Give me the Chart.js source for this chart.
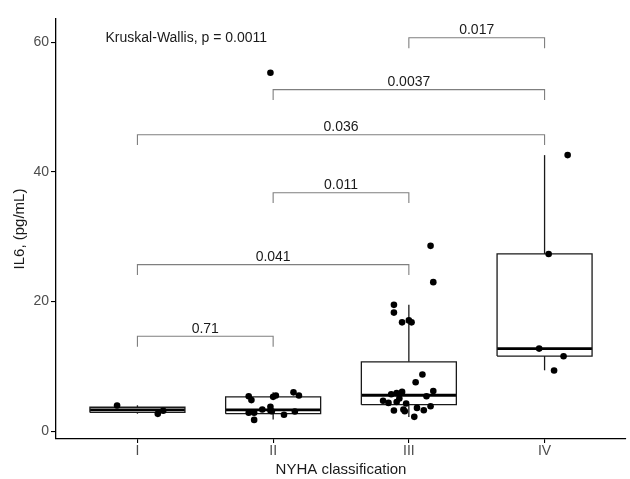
<!DOCTYPE html>
<html lang="en">
<head>
<meta charset="UTF-8">
<title>IL6 by NYHA class</title>
<script src="https://cdn.jsdelivr.net/npm/chart.js"></script>
<style>
  body { margin: 0; background: #fff; }
  #wrap { width: 630px; height: 479px; }
</style>
</head>
<body>
<div id="wrap"><canvas id="il6-chart" width="630" height="479"></canvas></div>
<script>
// groups on the x axis
const groups = ['I', 'II', 'III', 'IV'];
const yTicks = [0, 20, 40, 60];

// box statistics
const boxQ1 = [2.9, 2.7, 4.1, 11.6];
const boxMedian = [3.3, 3.3, 5.55, 12.75];
const boxQ3 = [3.7, 5.3, 10.7, 27.35];
const whiskerLow = [2.7, 1.8, 2.2, 9.4];
const whiskerHigh = [4.0, 6.0, 19.5, 42.6];

// jittered observations: group index (1-based), horizontal jitter, IL6 value
const pointGroup = [1, 1, 1,
  2, 2, 2, 2, 2, 2, 2, 2, 2, 2, 2, 2, 2, 2, 2, 2,
  3, 3, 3, 3, 3, 3, 3, 3, 3, 3, 3, 3, 3, 3, 3, 3, 3, 3, 3, 3, 3, 3, 3, 3, 3, 3,
  4, 4, 4, 4, 4];
const pointJitter = [-0.15, 0.15, 0.19,
  -0.18, -0.16, 0.00, 0.02, 0.15, 0.19, -0.18, -0.14, -0.14, -0.08, -0.02, -0.01, 0.08, 0.16, -0.02, -0.02,
  0.10, 0.05, -0.05, -0.13, -0.09, 0.18, 0.13, -0.19, -0.09, -0.07, 0.16, 0.11, -0.15, -0.11, -0.02, -0.04, -0.03, 0.04, 0.06, 0.16, 0.18, -0.11, -0.11, -0.05, 0.00, 0.02,
  0.03, -0.04, 0.14, 0.07, 0.17];
const pointValue = [3.96, 2.68, 3.15,
  5.4, 4.8, 5.3, 5.5, 6.0, 5.5, 2.84, 2.84, 1.75, 3.35, 3.76, 3.08, 2.53, 3.04, 55.3, 3.2,
  8.74, 7.56, 6.07, 5.7, 5.9, 6.2, 5.4, 4.7, 4.5, 5.04, 3.86, 3.24, 4.37, 3.19, 4.27, 3.35, 3.08, 2.22, 3.6, 28.6, 23.0, 19.5, 18.3, 16.8, 17.1, 16.8,
  27.35, 12.75, 11.57, 9.36, 42.6];

// pairwise comparisons
const bracketFrom = [1, 1, 2, 1, 2, 3];
const bracketTo = [2, 3, 3, 4, 4, 4];
const bracketY = [14.65, 25.7, 36.8, 45.75, 52.7, 60.7];
const bracketLabel = ['0.71', '0.041', '0.011', '0.036', '0.0037', '0.017'];
const bracketTip = 1.6;

const kwText = 'Kruskal-Wallis, p = 0.0011';
const kwX = 0.765;
const kwY = 60.0;

const boxHalf = 0.35;
const fontFamily = '"Liberation Sans", Arial, sans-serif';

function buildDatasets() {
    const sets = [];
    // points first so they are drawn on top
    sets.push({
        type: 'scatter',
        showLine: false,
        data: pointValue.map((v, i) => ({ x: pointGroup[i] + pointJitter[i], y: v })),
        pointRadius: 3.3,
        pointBackgroundColor: '#000',
        pointBorderWidth: 0
    });
    groups.forEach((g, i) => {
        const x = i + 1;
        sets.push({
            data: [
                { x: x - boxHalf, y: boxQ1[i] }, { x: x + boxHalf, y: boxQ1[i] },
                { x: x + boxHalf, y: boxQ3[i] }, { x: x - boxHalf, y: boxQ3[i] },
                { x: x - boxHalf, y: boxQ1[i] }
            ],
            borderColor: '#1a1a1a', borderWidth: 1.3
        });
        sets.push({
            data: [{ x: x - boxHalf, y: boxMedian[i] }, { x: x + boxHalf, y: boxMedian[i] }],
            borderColor: '#000', borderWidth: 2.8, borderCapStyle: 'butt'
        });
        sets.push({
            data: [{ x: x, y: whiskerLow[i] }, { x: x, y: boxQ1[i] }],
            borderColor: '#1a1a1a', borderWidth: 1.3
        });
        sets.push({
            data: [{ x: x, y: boxQ3[i] }, { x: x, y: whiskerHigh[i] }],
            borderColor: '#1a1a1a', borderWidth: 1.3
        });
    });
    bracketY.forEach((y, i) => {
        sets.push({
            data: [
                { x: bracketFrom[i], y: y - bracketTip }, { x: bracketFrom[i], y: y },
                { x: bracketTo[i], y: y }, { x: bracketTo[i], y: y - bracketTip }
            ],
            borderColor: '#7f7f7f', borderWidth: 1.1
        });
    });
    return sets.map(s => Object.assign({
        type: 'line', showLine: true, pointRadius: 0, fill: false, tension: 0, borderJoinStyle: 'miter'
    }, s));
}

const labelPlugin = {
    id: 'labelPlugin',
    afterDatasetsDraw(chart) {
        const ctx = chart.ctx;
        const xs = chart.scales.x, ys = chart.scales.y;
        ctx.save();
        ctx.fillStyle = '#1a1a1a';
        ctx.font = '14px ' + fontFamily;
        ctx.textBaseline = 'alphabetic';
        ctx.textAlign = 'center';
        bracketLabel.forEach((lab, i) => {
            const px = (xs.getPixelForValue(bracketFrom[i]) + xs.getPixelForValue(bracketTo[i])) / 2;
            ctx.fillText(lab, px, ys.getPixelForValue(bracketY[i]) - 3.5);
        });
        ctx.textAlign = 'left';
        ctx.fillText(kwText, xs.getPixelForValue(kwX), ys.getPixelForValue(kwY));
        ctx.restore();
    }
};

new Chart(document.getElementById('il6-chart'), {
    type: 'line',
    data: { datasets: buildDatasets() },
    plugins: [labelPlugin],
    options: {
        responsive: false,
        animation: false,
        devicePixelRatio: 1,
        layout: { padding: { top: 19, right: 2, left: 0, bottom: 0 } },
        plugins: { legend: { display: false }, tooltip: { enabled: false } },
        scales: {
            x: {
                type: 'linear', min: 0.4, max: 4.6,
                afterBuildTicks: s => { s.ticks = groups.map((g, i) => ({ value: i + 1 })); },
                afterFit: s => { s.height = 40; },
                ticks: {
                    callback: v => groups[v - 1],
                    color: '#4d4d4d', padding: 0,
                    font: { family: fontFamily, size: 14 }
                },
                grid: { drawOnChartArea: false, tickLength: 4, color: '#000', lineWidth: 1.1 },
                border: { color: '#000', width: 1.3 },
                title: {
                    display: true, text: 'NYHA classification', color: '#1a1a1a',
                    font: { family: fontFamily, size: 15 }, padding: { top: 0, bottom: 0 }
                }
            },
            y: {
                type: 'linear', min: -1.2, max: 63.6,
                afterBuildTicks: s => { s.ticks = yTicks.map(v => ({ value: v })); },
                afterFit: s => { s.width = 56; },
                ticks: {
                    color: '#4d4d4d', padding: 2,
                    font: { family: fontFamily, size: 14 }
                },
                grid: { drawOnChartArea: false, tickLength: 5, color: '#000', lineWidth: 1.1 },
                border: { color: '#000', width: 1.3 },
                title: {
                    display: true, text: 'IL6, (pg/mL)', color: '#1a1a1a',
                    font: { family: fontFamily, size: 15 }, padding: { top: 11, bottom: 0 }
                }
            }
        }
    }
});
</script>
</body>
</html>
